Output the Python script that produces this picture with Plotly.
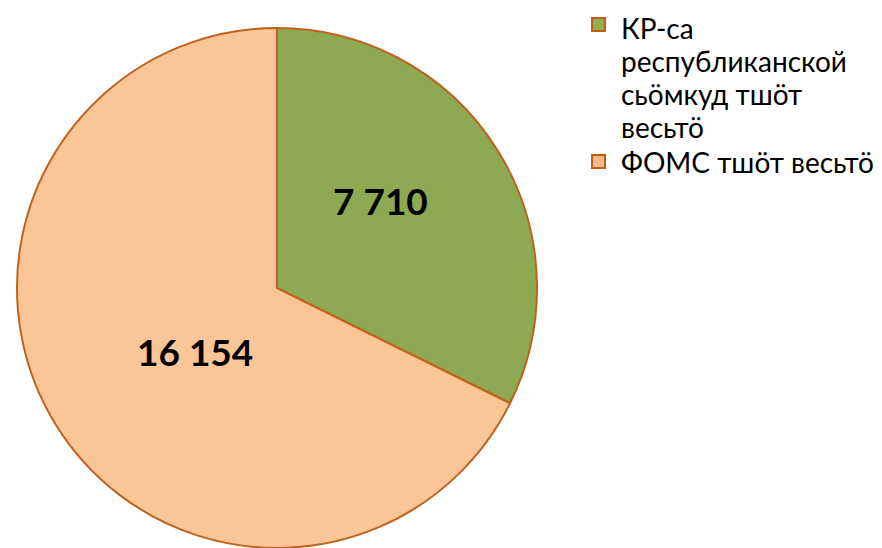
import math
import plotly.graph_objects as go

labels = ["КР-са республиканской сьӧмкуд тшӧт весьтӧ", "ФОМС тшӧт весьтӧ"]
legend_lines = [["КР-са", "республиканской", "сьӧмкуд тшӧт", "весьтӧ"], ["ФОМС тшӧт весьтӧ"]]
values = [7710, 16154]
text_labels = ["7 710", "16 154"]
colors = ["#8DAA52", "#FAC597"]
legend_colors = ["#8FB050", "#F6B888"]

W, H = 882, 548
OFF = 8  # body margin of the page
cx, cy, R = 277 - OFF, 288 - OFF, 260  # pie centre/radius in figure px

fig = go.Figure(go.Pie(
    labels=labels,
    values=values,
    textinfo="none",
    sort=False,
    direction="clockwise",
    rotation=0,
    marker=dict(colors=colors, line=dict(color="#BF621E", width=2)),
    domain=dict(x=[(cx - R) / W, (cx + R) / W], y=[(H - cy - R) / H, (H - cy + R) / H]),
    hoverinfo="label+value",
    showlegend=False,
))

# value labels placed along each slice's mid angle
total = sum(values)
start = 0.0
label_r = [0.52, 0.40]
label_shift = [-8.5, -6.0]
for v, t, rf, sh in zip(values, text_labels, label_r, label_shift):
    mid = start + v / total * 360 / 2 + sh
    start += v / total * 360
    px = cx + rf * R * math.sin(math.radians(mid))
    py = cy - rf * R * math.cos(math.radians(mid))
    fig.add_annotation(x=px / W, y=1 - py / H, xref="paper", yref="paper",
                       text="<b>%s</b>" % t, showarrow=False,
                       xanchor="center", yanchor="middle",
                       font=dict(family="Lato", size=37, color="black"))

# custom legend
line_y = [[28, 61, 94, 127], [162]]  # screen px centres of text lines
square_y = [18, 155]
for lines, ys, sq, col in zip(legend_lines, line_y, square_y, legend_colors):
    for ln, y in zip(lines, ys):
        fig.add_annotation(x=(619 - OFF) / W, y=1 - (y - OFF) / H, xref="paper", yref="paper",
                           text=ln, showarrow=False, xanchor="left", yanchor="middle",
                           font=dict(family="Lato", size=28, color="black"))
    fig.add_shape(type="rect", xref="paper", yref="paper",
                  x0=(592 - OFF) / W, x1=(605 - OFF) / W,
                  y0=1 - (sq - OFF) / H, y1=1 - (sq + 13 - OFF) / H,
                  fillcolor=col, line=dict(color="#C55A11", width=2))

fig.update_layout(
    width=W, height=H,
    margin=dict(l=0, r=0, t=0, b=0),
    paper_bgcolor="white",
    plot_bgcolor="white",
    showlegend=False,
)

fig.write_html("out.html")
